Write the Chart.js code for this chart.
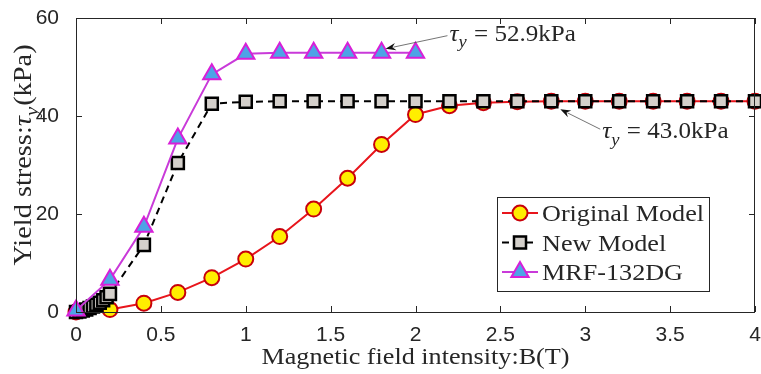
<!DOCTYPE html>
<html>
<head>
<meta charset="utf-8">
<script src="https://cdn.jsdelivr.net/npm/chart.js@4.4.0/dist/chart.umd.min.js"></script>
<style>
  html, body { margin: 0; padding: 0; background: #ffffff; }
  #wrap { width: 761px; height: 374px; }
</style>
</head>
<body>
<div id="wrap"><canvas id="yieldChart" width="761" height="374"></canvas></div>
<script>
// Campo magnético B(T) e tensão de escoamento (kPa)
const originalB = [0, 0.2, 0.4, 0.6, 0.8, 1.0, 1.2, 1.4, 1.6, 1.8, 2.0, 2.2, 2.4, 2.6, 2.8, 3.0, 3.2, 3.4, 3.6, 3.8, 4.0];
const originalStress = [0, 0.5, 1.8, 4.0, 7.0, 10.8, 15.4, 21.0, 27.3, 34.2, 40.3, 42.1, 42.7, 42.9, 43.0, 43.0, 43.0, 43.0, 43.0, 43.0, 43.0];

const newModelB = [0, 0.02, 0.04, 0.06, 0.08, 0.1, 0.12, 0.14, 0.16, 0.18, 0.2, 0.4, 0.6, 0.8, 1.0, 1.2, 1.4, 1.6, 1.8, 2.0, 2.2, 2.4, 2.6, 2.8, 3.0, 3.2, 3.4, 3.6, 3.8, 4.0];
const newModelStress = [0, 0.1, 0.3, 0.5, 0.8, 1.1, 1.5, 1.9, 2.4, 3.0, 3.7, 13.7, 30.4, 42.5, 42.9, 43.0, 43.0, 43.0, 43.0, 43.0, 43.0, 43.0, 43.0, 43.0, 43.0, 43.0, 43.0, 43.0, 43.0, 43.0];

const mrfB = [0, 0.2, 0.4, 0.6, 0.8, 1.0, 1.2, 1.4, 1.6, 1.8, 2.0];
const mrfStress = [0.3, 6.6, 17.4, 35.4, 48.5, 52.7, 52.9, 52.9, 52.9, 52.9, 52.9];

const xTicks = [0, 0.5, 1, 1.5, 2, 2.5, 3, 3.5, 4];
const yTicks = [0, 20, 40, 60];

const seriesLabels = ['Original Model', 'New Model', 'MRF-132DG'];
const xTitle = 'Magnetic field intensity:B(T)';
const yTitle = ['Yield stress:', 'τ', 'y', '(kPa)'];
const annotationTexts = [
    { value: ' = 52.9kPa', at: [2.2, 56.8], tip: [1.8, 52.9], tipOff: [4, -4], startOff: [-2, 2] },
    { value: ' = 43.0kPa', at: [3.1, 36.9], tip: [2.8, 43.0], tipOff: [9, 8], startOff: [-2, -2] }
];

const SERIF = '"Liberation Serif", "DejaVu Serif", serif';
const SANS = '"Liberation Sans", Arial, sans-serif';
const STRETCH = 1.09; // texto serifado um pouco mais largo (tipo LaTeX)

function toPoints(xs, ys) {
    return xs.map((x, i) => ({ x: x, y: ys[i] }));
}

// Desenha partes de texto (normal / itálico / subscrito) com esticamento horizontal
function drawParts(ctx, parts, x, y, size, align) {
    ctx.save();
    ctx.fillStyle = '#262626';
    ctx.textBaseline = 'alphabetic';
    ctx.textAlign = 'left';
    let total = 0;
    parts.forEach(p => {
        const s = p.sub ? Math.round(size * 0.72) : size;
        p.font = (p.italic ? 'italic ' : '') + s + 'px ' + SERIF;
        ctx.font = p.font;
        p.w = ctx.measureText(p.t).width + (p.sub ? 1 : 0);
        total += p.w;
    });
    ctx.translate(x, y);
    ctx.scale(STRETCH, 1);
    let cx = align === 'center' ? -total / 2 : 0;
    parts.forEach(p => {
        ctx.font = p.font;
        ctx.fillText(p.t, cx, p.sub ? size * 0.28 : 0);
        cx += p.w;
    });
    ctx.restore();
}

function drawMarkerPath(ctx, style, r, x, y) {
    if (style === 'circle') {
        ctx.arc(x, y, r, 0, Math.PI * 2);
    } else if (style === 'rect') {
        const s = Math.SQRT1_2 * r;
        ctx.rect(x - s, y - s, 2 * s, 2 * s);
    } else {
        for (let k = 0; k < 3; k++) {
            const ang = k * 2 * Math.PI / 3;
            const px = x + Math.sin(ang) * r, py = y - Math.cos(ang) * r;
            if (k === 0) ctx.moveTo(px, py); else ctx.lineTo(px, py);
        }
        ctx.closePath();
    }
}

const framePlugin = {
    id: 'frame',
    afterDatasetsDraw(chart) {
        const { ctx, chartArea: a, scales } = chart;
        const xs = scales.x, ys = scales.y;

        // Caixa e marcas internas (estilo MATLAB)
        ctx.save();
        ctx.strokeStyle = '#262626';
        ctx.lineWidth = 1;
        ctx.strokeRect(a.left + 0.5, a.top + 0.5, a.right - a.left - 1, a.bottom - a.top);
        ctx.beginPath();
        xTicks.forEach(v => {
            const px = Math.round(xs.getPixelForValue(v)) + 0.5;
            ctx.moveTo(px, a.bottom); ctx.lineTo(px, a.bottom - 6);
            ctx.moveTo(px, a.top); ctx.lineTo(px, a.top + 6);
        });
        yTicks.forEach(v => {
            const py = Math.round(ys.getPixelForValue(v)) + 0.5;
            ctx.moveTo(a.left, py); ctx.lineTo(a.left + 6, py);
            ctx.moveTo(a.right, py); ctx.lineTo(a.right - 6, py);
        });
        ctx.stroke();
        ctx.restore();

        // Anotações com setas
        annotationTexts.forEach(an => {
            const tx = xs.getPixelForValue(an.at[0]);
            const ty = ys.getPixelForValue(an.at[1]);
            const sx = tx + an.startOff[0], sy = ty + an.startOff[1];
            const ex = xs.getPixelForValue(an.tip[0]) + an.tipOff[0];
            const ey = ys.getPixelForValue(an.tip[1]) + an.tipOff[1];
            const ang = Math.atan2(ey - sy, ex - sx);
            ctx.save();
            ctx.strokeStyle = '#505050';
            ctx.lineWidth = 0.8;
            ctx.beginPath();
            ctx.moveTo(sx, sy);
            ctx.lineTo(ex - 8 * Math.cos(ang), ey - 8 * Math.sin(ang));
            ctx.stroke();
            ctx.fillStyle = '#111111';
            ctx.beginPath();
            ctx.moveTo(ex, ey);
            ctx.lineTo(ex - 11 * Math.cos(ang - 0.35), ey - 11 * Math.sin(ang - 0.35));
            ctx.lineTo(ex - 7 * Math.cos(ang), ey - 7 * Math.sin(ang));
            ctx.lineTo(ex - 11 * Math.cos(ang + 0.35), ey - 11 * Math.sin(ang + 0.35));
            ctx.closePath();
            ctx.fill();
            ctx.restore();
            drawParts(ctx, [
                { t: 'τ', italic: true },
                { t: 'y', italic: true, sub: true },
                { t: an.value }
            ], tx, ty + 7, 23, 'left');
        });

        // Legenda
        const lx = 497, ly = 197, lw = 212, lh = 94;
        ctx.save();
        ctx.fillStyle = '#ffffff';
        ctx.fillRect(lx, ly, lw, lh);
        ctx.strokeStyle = '#262626';
        ctx.lineWidth = 1;
        ctx.strokeRect(lx + 0.5, ly + 0.5, lw, lh);
        ctx.restore();
        chart.data.datasets.forEach((ds, i) => {
            const cy = ly + 16 + i * 29.5;
            ctx.save();
            ctx.strokeStyle = ds.borderColor;
            ctx.lineWidth = ds.borderWidth;
            ctx.setLineDash(ds.borderDash || []);
            ctx.beginPath();
            ctx.moveTo(lx + 5, cy);
            ctx.lineTo(lx + 41, cy);
            ctx.stroke();
            ctx.setLineDash([]);
            ctx.fillStyle = ds.pointBackgroundColor;
            ctx.strokeStyle = ds.pointBorderColor;
            ctx.lineWidth = ds.pointBorderWidth;
            ctx.beginPath();
            drawMarkerPath(ctx, ds.pointStyle, ds.pointRadius, lx + 23, cy);
            ctx.fill();
            ctx.stroke();
            ctx.restore();
            drawParts(ctx, [{ t: ds.label }], lx + 45, cy + 8, 24, 'left');
        });

        // Títulos dos eixos
        drawParts(ctx, [{ t: xTitle }], (a.left + a.right) / 2, 364, 24, 'center');
        ctx.save();
        ctx.translate(31, 155);
        ctx.rotate(-Math.PI / 2);
        drawParts(ctx, [
            { t: yTitle[0] },
            { t: yTitle[1], italic: true },
            { t: yTitle[2], italic: true, sub: true },
            { t: yTitle[3] }
        ], 0, 0, 26, 'center');
        ctx.restore();
    }
};

const ctx = document.getElementById('yieldChart').getContext('2d');
window.myYieldChart = new Chart(ctx, {
    type: 'line',
    data: {
        datasets: [
            {
                label: seriesLabels[0],
                data: toPoints(originalB, originalStress),
                borderColor: '#e8151c',
                borderWidth: 2,
                pointStyle: 'circle',
                pointRadius: 7.5,
                pointBackgroundColor: '#ffee00',
                pointBorderColor: '#c8000a',
                pointBorderWidth: 2,
                order: 3
            },
            {
                label: seriesLabels[1],
                data: toPoints(newModelB, newModelStress),
                borderColor: '#000000',
                borderWidth: 2,
                borderDash: [7, 5],
                pointStyle: 'rect',
                pointRadius: 8.5,
                pointBackgroundColor: '#d4d0cb',
                pointBorderColor: '#000000',
                pointBorderWidth: 2.5,
                order: 2
            },
            {
                label: seriesLabels[2],
                data: toPoints(mrfB, mrfStress),
                borderColor: '#c93ad9',
                borderWidth: 2,
                pointStyle: 'triangle',
                pointRadius: 10,
                pointBackgroundColor: '#4ea3e6',
                pointBorderColor: '#d81fd8',
                pointBorderWidth: 2,
                order: 1
            }
        ]
    },
    options: {
        responsive: false,
        animation: false,
        devicePixelRatio: 1,
        clip: false,
        layout: { autoPadding: false, padding: { top: 18, right: 6, left: 0, bottom: 0 } },
        plugins: {
            legend: { display: false },
            tooltip: { enabled: false }
        },
        elements: { line: { tension: 0 } },
        scales: {
            x: {
                type: 'linear',
                min: 0,
                max: 4,
                afterBuildTicks: scale => { scale.ticks = xTicks.map(v => ({ value: v })); },
                grid: { display: false },
                border: { display: false },
                ticks: {
                    color: '#262626',
                    font: { family: SANS, size: 21 },
                    padding: 3,
                    maxRotation: 0,
                    callback: value => String(value)
                },
                afterFit: scale => {
                    scale.height = 62;
                    scale.paddingLeft = 0;
                    scale.paddingRight = 0;
                }
            },
            y: {
                type: 'linear',
                min: 0,
                max: 60,
                afterBuildTicks: scale => { scale.ticks = yTicks.map(v => ({ value: v })); },
                grid: { display: false },
                border: { display: false },
                ticks: {
                    color: '#262626',
                    font: { family: SANS, size: 21 },
                    padding: 9,
                    callback: value => String(value)
                },
                afterFit: scale => {
                    scale.width = 76;
                    scale.paddingTop = 0;
                    scale.paddingBottom = 0;
                }
            }
        }
    },
    plugins: [framePlugin]
});
</script>
</body>
</html>
